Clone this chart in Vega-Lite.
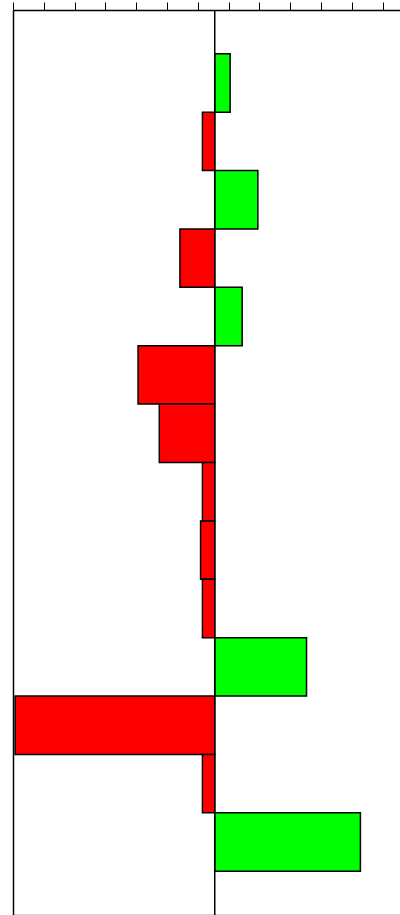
{
  "$schema": "https://vega.github.io/schema/vega-lite/v6.json",
  "autosize": {"type": "none"},
  "padding": {"left": 13, "top": 10, "right": 0, "bottom": 0},
  "width": 387,
  "height": 905,
  "background": "white",
  "config": {"view": {"stroke": null}},
  "data": {
    "values": [
      {"row": "1", "value": 0.5},
      {"row": "2", "value": -0.4},
      {"row": "3", "value": 1.4},
      {"row": "4", "value": -1.13},
      {"row": "5", "value": 0.89},
      {"row": "6", "value": -2.49},
      {"row": "7", "value": -1.8},
      {"row": "8", "value": -0.4},
      {"row": "9", "value": -0.46},
      {"row": "10", "value": -0.4},
      {"row": "11", "value": 2.98},
      {"row": "12", "value": -6.48},
      {"row": "13", "value": -0.4},
      {"row": "14", "value": 4.73}
    ]
  },
  "resolve": {"axis": {"x": "independent"}},
  "layer": [
    {
      "mark": {"type": "bar", "stroke": "black", "strokeWidth": 1.5, "cornerRadius": 0},
      "encoding": {
        "y": {
          "field": "row", "type": "ordinal", "sort": null,
          "scale": {"paddingInner": 0, "paddingOuter": 0.75},
          "axis": {"orient": "left", "domain": true, "domainColor": "black", "domainWidth": 1.5, "ticks": false, "labels": false, "title": null, "grid": false}
        },
        "x": {
          "field": "value", "type": "quantitative",
          "scale": {"domain": [-6.55, 6.015], "nice": false, "zero": false},
          "axis": {"orient": "top", "values": [-6.55, -5.55, -4.55, -3.55, -2.55, -1.55, -0.55, 0.45, 1.45, 2.45, 3.45, 4.45, 5.45], "labels": false, "ticks": true, "tickSize": 8, "tickColor": "black", "tickWidth": 1, "domainColor": "black", "domainWidth": 1.5, "grid": false, "title": null}
        },
        "color": {
          "condition": {"test": "datum.value < 0", "value": "#ff0000"},
          "value": "#00ff00"
        }
      }
    },
    {
      "data": {"values": [{"zero": 0}]},
      "mark": {"type": "rule", "color": "black", "strokeWidth": 1.5},
      "encoding": {
        "x": {
          "field": "zero", "type": "quantitative",
          "axis": {"orient": "bottom", "labels": false, "ticks": false, "domain": true, "domainColor": "#555555", "domainWidth": 1.5, "grid": false, "title": null}
        }
      }
    }
  ]
}
